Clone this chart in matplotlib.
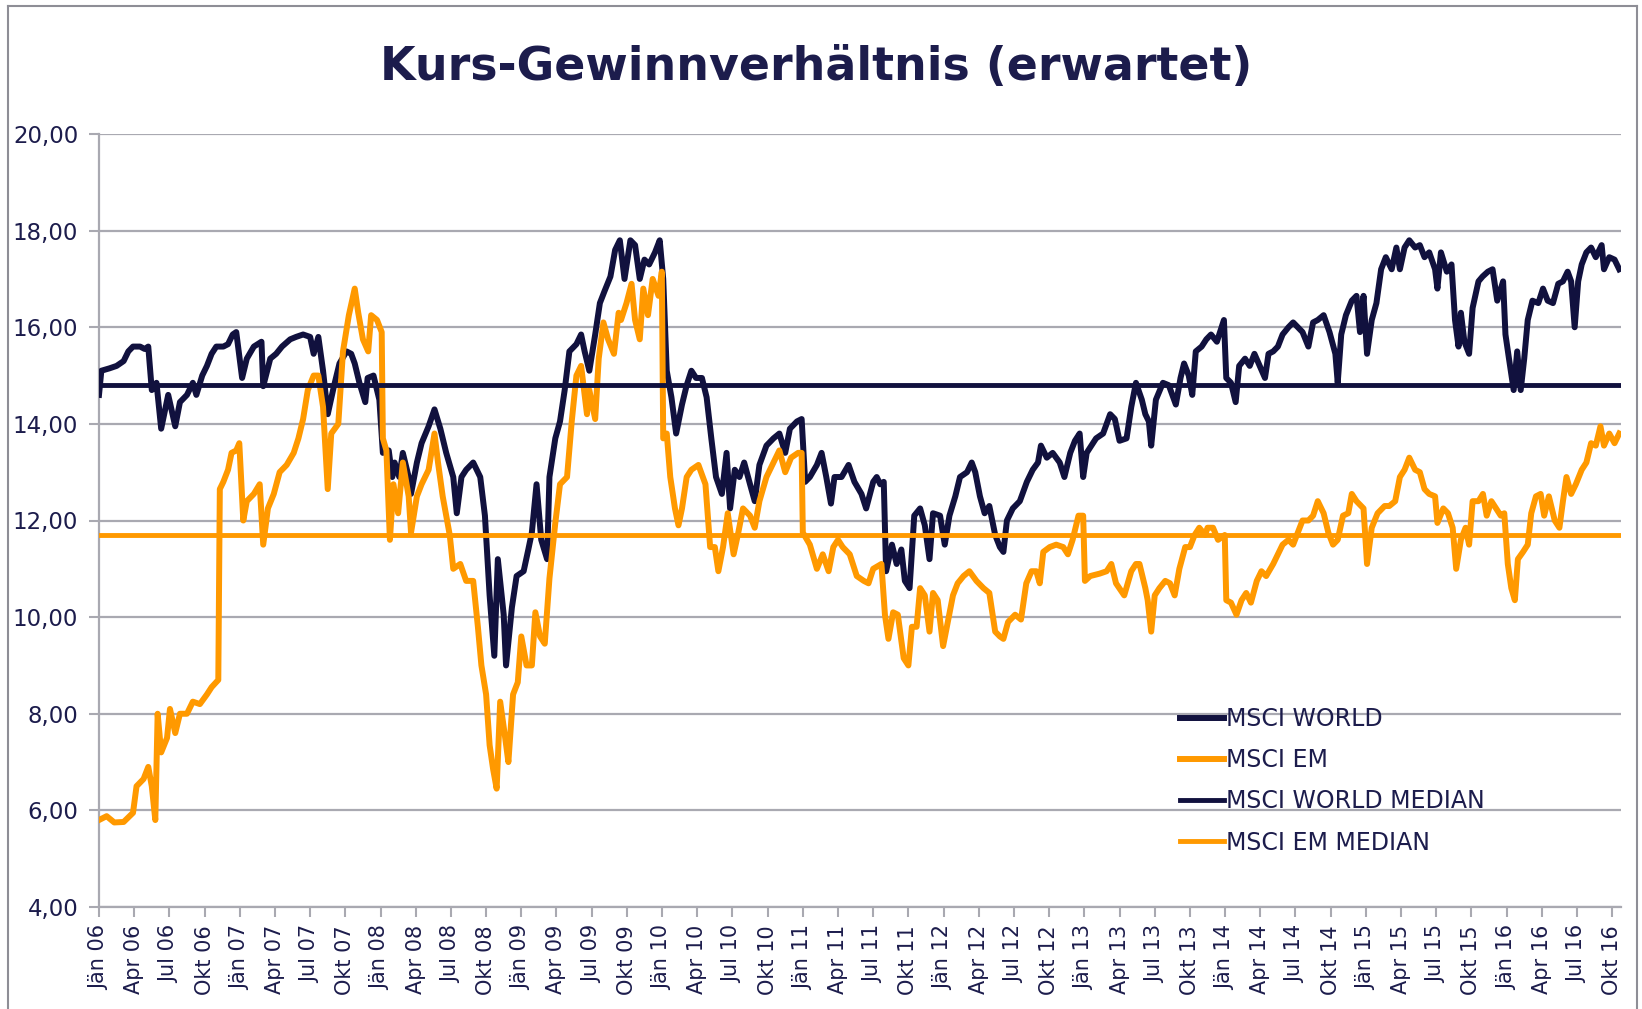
import numpy as np
import matplotlib
matplotlib.use("Agg")
import matplotlib.pyplot as plt
from matplotlib.lines import Line2D

# forward P/E, x = months since Jan 2006
world_pts = [
    (0.0, 14.6), (0.2, 15.1), (0.9, 15.15), (1.5, 15.2), (2.1, 15.3), (2.5, 15.5), (2.9, 15.6),
    (3.5, 15.6), (3.9, 15.55), (4.2, 15.6), (4.5, 14.7), (4.9, 14.85), (5.3, 13.9), (5.9, 14.6),
    (6.5, 13.95), (6.9, 14.45), (7.5, 14.6), (8.0, 14.85), (8.3, 14.6), (8.8, 15.0), (9.2, 15.2),
    (9.6, 15.45), (10.0, 15.6), (10.6, 15.6), (11.0, 15.65), (11.4, 15.85), (11.7, 15.9),
    (12.2, 14.95), (12.6, 15.35), (13.2, 15.6), (13.85, 15.7), (14.0, 14.78), (14.6, 15.35),
    (15.1, 15.45), (15.6, 15.6), (16.3, 15.75), (16.8, 15.8), (17.4, 15.85), (18.0, 15.8),
    (18.3, 15.45), (18.7, 15.8), (19.1, 15.1), (19.5, 14.2), (20.0, 14.75), (20.5, 15.25),
    (21.1, 15.5), (21.5, 15.45), (21.8, 15.25), (22.2, 14.85), (22.7, 14.45), (22.9, 14.95),
    (23.4, 15.0), (23.9, 14.5), (24.2, 13.4), (24.7, 13.45), (25.0, 12.9), (25.2, 13.2),
    (25.6, 12.9), (25.9, 13.4), (26.4, 12.9), (26.6, 12.55), (27.1, 13.2), (27.5, 13.6),
    (28.1, 13.95), (28.6, 14.3), (29.1, 13.9), (29.6, 13.4), (30.2, 12.9), (30.5, 12.15),
    (30.9, 12.9), (31.3, 13.05), (31.9, 13.2), (32.5, 12.9), (32.9, 12.1), (33.3, 10.45),
    (33.7, 9.2), (34.0, 11.2), (34.5, 10.05), (34.7, 9.0), (35.2, 10.2), (35.6, 10.85),
    (36.2, 10.95), (36.6, 11.4), (36.9, 11.75), (37.3, 12.75), (37.7, 11.6), (38.2, 11.2),
    (38.4, 12.9), (38.9, 13.7), (39.3, 14.05), (39.7, 14.7), (40.1, 15.5), (40.7, 15.65),
    (41.1, 15.85), (41.4, 15.5), (41.8, 15.1), (42.3, 15.85), (42.7, 16.5), (43.1, 16.75),
    (43.6, 17.05), (44.0, 17.6), (44.4, 17.8), (44.8, 17.0), (45.3, 17.8), (45.7, 17.7),
    (46.1, 17.0), (46.5, 17.4), (46.9, 17.3), (47.4, 17.55), (47.8, 17.8), (48.1, 17.0),
    (48.4, 15.1), (48.8, 14.55), (49.2, 13.8), (49.7, 14.4), (50.1, 14.8), (50.5, 15.1),
    (50.9, 14.95), (51.4, 14.95), (51.8, 14.55), (52.2, 13.7), (52.6, 12.9), (53.1, 12.55),
    (53.5, 13.4), (53.8, 12.25), (54.2, 13.05), (54.6, 12.9), (55.0, 13.2), (55.5, 12.75),
    (55.9, 12.4), (56.3, 13.15), (56.9, 13.55), (57.5, 13.7), (58.0, 13.8), (58.5, 13.4),
    (58.9, 13.9), (59.5, 14.05), (59.9, 14.1), (60.2, 12.8), (60.6, 12.9), (61.2, 13.15),
    (61.6, 13.4), (62.0, 12.9), (62.4, 12.35), (62.7, 12.9), (63.3, 12.9), (63.9, 13.15),
    (64.4, 12.8), (65.0, 12.55), (65.4, 12.25), (66.0, 12.8), (66.3, 12.9), (66.6, 12.75),
    (66.9, 12.8), (67.1, 10.95), (67.6, 11.5), (68.0, 11.1), (68.4, 11.4), (68.7, 10.75),
    (69.1, 10.6), (69.5, 12.1), (70.0, 12.25), (70.4, 11.9), (70.8, 11.2), (71.1, 12.15),
    (71.7, 12.1), (72.1, 11.5), (72.5, 12.1), (73.0, 12.5), (73.4, 12.9), (74.0, 13.0),
    (74.4, 13.2), (74.7, 13.0), (75.1, 12.5), (75.5, 12.15), (75.9, 12.3), (76.4, 11.7),
    (76.8, 11.45), (77.1, 11.35), (77.4, 12.0), (77.9, 12.25), (78.5, 12.4), (79.1, 12.8),
    (79.6, 13.05), (80.05, 13.2), (80.3, 13.55), (80.8, 13.3), (81.3, 13.4), (81.9, 13.2),
    (82.3, 12.9), (82.8, 13.4), (83.2, 13.65), (83.6, 13.8), (83.9, 12.9), (84.2, 13.4),
    (84.6, 13.55), (85.0, 13.7), (85.6, 13.8), (86.2, 14.2), (86.6, 14.1), (87.0, 13.65),
    (87.6, 13.7), (88.0, 14.35), (88.4, 14.85), (88.9, 14.5), (89.2, 14.2), (89.5, 14.05),
    (89.7, 13.55), (90.1, 14.5), (90.7, 14.85), (91.2, 14.8), (91.8, 14.4), (92.2, 14.95),
    (92.5, 15.25), (92.9, 15.0), (93.2, 14.6), (93.5, 15.5), (94.0, 15.6), (94.4, 15.75),
    (94.8, 15.85), (95.3, 15.7), (95.5, 15.85), (95.9, 16.15), (96.1, 14.95), (96.5, 14.85),
    (96.9, 14.45), (97.2, 15.2), (97.7, 15.35), (98.1, 15.2), (98.5, 15.45), (98.95, 15.2),
    (99.4, 14.95), (99.7, 15.45), (100.1, 15.5), (100.5, 15.6), (100.9, 15.85), (101.4, 16.0),
    (101.8, 16.1), (102.2, 16.0), (102.6, 15.9), (103.1, 15.6), (103.5, 16.1), (103.9, 16.15),
    (104.4, 16.25), (104.9, 15.9), (105.4, 15.45), (105.6, 14.85), (105.9, 15.85),
    (106.3, 16.25), (106.8, 16.55), (107.2, 16.65), (107.5, 15.9), (107.8, 16.65),
    (108.1, 15.45), (108.5, 16.15), (108.9, 16.5), (109.3, 17.2), (109.7, 17.45),
    (110.2, 17.2), (110.6, 17.65), (110.9, 17.2), (111.3, 17.65), (111.7, 17.8),
    (112.2, 17.65), (112.6, 17.7), (113.0, 17.45), (113.4, 17.55), (113.9, 17.2),
    (114.1, 16.8), (114.4, 17.55), (114.9, 17.15), (115.3, 17.3), (115.6, 16.15),
    (115.9, 15.6), (116.1, 16.3), (116.4, 15.7), (116.8, 15.45), (117.1, 16.4),
    (117.6, 16.95), (117.95, 17.05), (118.4, 17.15), (118.8, 17.2), (119.2, 16.55),
    (119.7, 16.95), (119.9, 15.85), (120.2, 15.35), (120.6, 14.7), (120.9, 15.5),
    (121.2, 14.7), (121.5, 15.35), (121.8, 16.15), (122.2, 16.55), (122.7, 16.5),
    (123.1, 16.8), (123.5, 16.55), (123.95, 16.5), (124.4, 16.9), (124.8, 16.95),
    (125.2, 17.15), (125.5, 16.95), (125.8, 16.0), (126.1, 16.95), (126.4, 17.3),
    (126.8, 17.55), (127.2, 17.65), (127.6, 17.45), (128.1, 17.7), (128.3, 17.2),
    (128.75, 17.45), (129.2, 17.4), (129.6, 17.2),
]

em_pts = [
    (0.0, 5.8), (0.65, 5.88), (1.3, 5.75), (2.1, 5.76), (2.9, 5.95), (3.2, 6.5), (3.8, 6.65),
    (4.2, 6.9), (4.5, 6.5), (4.8, 5.8), (5.0, 8.0), (5.3, 7.2), (5.8, 7.5), (6.05, 8.1),
    (6.5, 7.6), (6.9, 8.0), (7.5, 8.0), (8.0, 8.25), (8.6, 8.2), (9.2, 8.4), (9.6, 8.55),
    (10.17, 8.7), (10.3, 12.65), (10.6, 12.8), (11.0, 13.05), (11.3, 13.4), (11.7, 13.45),
    (11.96, 13.6), (12.3, 12.0), (12.6, 12.4), (13.2, 12.55), (13.7, 12.75), (14.0, 11.5),
    (14.4, 12.25), (14.9, 12.55), (15.4, 13.0), (16.0, 13.15), (16.6, 13.4), (17.0, 13.7),
    (17.4, 14.1), (17.8, 14.7), (18.3, 15.0), (18.7, 15.0), (19.1, 14.35), (19.5, 12.65),
    (19.8, 13.8), (20.4, 14.0), (20.8, 15.5), (21.3, 16.25), (21.8, 16.8), (22.1, 16.3),
    (22.5, 15.75), (22.95, 15.5), (23.2, 16.25), (23.7, 16.15), (24.1, 15.9), (24.2, 13.7),
    (24.5, 13.45), (24.8, 11.6), (25.1, 12.75), (25.5, 12.15), (25.9, 13.2), (26.4, 12.5),
    (26.6, 11.75), (27.1, 12.5), (27.5, 12.75), (28.1, 13.05), (28.6, 13.8), (28.9, 13.2),
    (29.3, 12.5), (29.9, 11.7), (30.2, 11.0), (30.8, 11.1), (31.3, 10.75), (31.9, 10.75),
    (32.3, 9.8), (32.6, 9.0), (33.0, 8.4), (33.3, 7.35), (33.6, 6.85), (33.9, 6.45),
    (34.2, 8.25), (34.6, 7.55), (34.9, 7.0), (35.3, 8.4), (35.7, 8.65), (36.0, 9.6),
    (36.45, 9.0), (36.9, 9.0), (37.2, 10.1), (37.6, 9.6), (38.0, 9.45), (38.4, 10.8),
    (38.9, 11.95), (39.3, 12.75), (39.9, 12.9), (40.3, 14.05), (40.7, 15.0), (41.1, 15.2),
    (41.6, 14.2), (41.8, 14.7), (42.3, 14.1), (42.6, 15.35), (43.0, 16.1), (43.4, 15.75),
    (43.9, 15.45), (44.3, 16.3), (44.5, 16.15), (44.97, 16.5), (45.4, 16.9), (45.7, 16.15),
    (46.1, 15.75), (46.4, 16.8), (46.8, 16.25), (47.2, 17.0), (47.7, 16.65), (47.98, 17.15),
    (48.1, 13.7), (48.4, 13.8), (48.7, 12.9), (49.1, 12.25), (49.4, 11.9), (49.7, 12.25),
    (50.1, 12.9), (50.5, 13.05), (51.1, 13.15), (51.7, 12.75), (52.1, 11.45), (52.5, 11.45),
    (52.8, 10.95), (53.2, 11.45), (53.6, 12.15), (54.1, 11.3), (54.5, 11.75), (54.9, 12.25),
    (55.5, 12.1), (55.9, 11.85), (56.3, 12.4), (56.9, 12.9), (57.5, 13.2), (58.0, 13.45),
    (58.5, 13.0), (59.0, 13.3), (59.6, 13.4), (59.9, 13.4), (60.0, 11.75), (60.6, 11.5),
    (61.2, 11.0), (61.7, 11.3), (62.2, 10.95), (62.6, 11.45), (63.0, 11.6), (63.4, 11.45),
    (64.0, 11.3), (64.6, 10.85), (65.2, 10.75), (65.6, 10.7), (66.0, 11.0), (66.7, 11.1),
    (67.0, 10.05), (67.3, 9.55), (67.7, 10.1), (68.1, 10.05), (68.6, 9.15), (69.0, 9.0),
    (69.3, 9.8), (69.7, 9.8), (70.0, 10.6), (70.4, 10.45), (70.8, 9.7), (71.1, 10.5),
    (71.5, 10.35), (71.96, 9.4), (72.4, 9.95), (72.8, 10.45), (73.2, 10.7), (73.7, 10.85),
    (74.2, 10.95), (74.8, 10.75), (75.4, 10.6), (75.9, 10.5), (76.4, 9.7), (76.8, 9.6),
    (77.1, 9.55), (77.5, 9.9), (78.1, 10.05), (78.6, 9.95), (79.05, 10.7), (79.5, 10.95),
    (79.9, 10.95), (80.2, 10.7), (80.5, 11.35), (81.05, 11.45), (81.6, 11.5), (82.2, 11.45),
    (82.6, 11.3), (83.0, 11.6), (83.5, 12.1), (83.9, 12.1), (84.05, 10.75), (84.5, 10.85),
    (85.3, 10.9), (85.9, 10.95), (86.3, 11.1), (86.7, 10.7), (87.4, 10.45), (88.0, 10.95),
    (88.4, 11.1), (88.7, 11.1), (89.2, 10.6), (89.4, 10.35), (89.7, 9.7), (90.0, 10.45),
    (90.4, 10.6), (90.9, 10.75), (91.3, 10.7), (91.7, 10.45), (92.1, 11.0), (92.6, 11.45),
    (93.0, 11.45), (93.4, 11.7), (93.8, 11.85), (94.3, 11.7), (94.5, 11.85), (94.97, 11.85),
    (95.4, 11.6), (95.97, 11.7), (96.1, 10.35), (96.5, 10.3), (96.97, 10.05), (97.4, 10.35),
    (97.8, 10.5), (98.2, 10.3), (98.7, 10.75), (99.1, 10.95), (99.5, 10.85), (100.1, 11.1),
    (100.5, 11.3), (100.9, 11.5), (101.4, 11.6), (101.8, 11.5), (102.2, 11.75), (102.6, 12.0),
    (103.1, 12.0), (103.5, 12.1), (103.9, 12.4), (104.4, 12.15), (104.8, 11.75), (105.2, 11.5),
    (105.6, 11.6), (106.05, 12.1), (106.5, 12.15), (106.8, 12.55), (107.2, 12.4),
    (107.8, 12.25), (108.1, 11.1), (108.5, 11.85), (109.0, 12.15), (109.6, 12.3),
    (110.0, 12.3), (110.5, 12.4), (110.9, 12.9), (111.3, 13.05), (111.7, 13.3), (112.2, 13.05),
    (112.6, 13.0), (113.0, 12.65), (113.4, 12.55), (113.9, 12.5), (114.1, 11.95),
    (114.6, 12.25), (115.0, 12.15), (115.4, 11.85), (115.7, 11.0), (116.1, 11.6),
    (116.5, 11.85), (116.8, 11.5), (117.1, 12.4), (117.6, 12.4), (117.98, 12.55),
    (118.3, 12.1), (118.7, 12.4), (119.1, 12.25), (119.5, 12.1), (119.8, 12.15),
    (120.1, 11.1), (120.4, 10.6), (120.7, 10.35), (120.96, 11.2), (121.4, 11.35),
    (121.8, 11.5), (122.1, 12.15), (122.5, 12.5), (122.9, 12.55), (123.2, 12.1),
    (123.6, 12.5), (124.1, 12.0), (124.5, 11.85), (124.8, 12.4), (125.1, 12.9),
    (125.5, 12.55), (125.9, 12.75), (126.4, 13.05), (126.8, 13.2), (127.2, 13.6),
    (127.6, 13.55), (128.0, 13.95), (128.3, 13.55), (128.75, 13.8), (129.2, 13.6),
    (129.6, 13.8),
]

world_median = 14.8
em_median = 11.7

series_labels = ["MSCI WORLD", "MSCI EM", "MSCI WORLD MEDIAN", "MSCI EM MEDIAN"]
quarter_names = ["Jän", "Apr", "Jul", "Okt"]
y_ticks = [4, 6, 8, 10, 12, 14, 16, 18, 20]

navy = "#11113e"
orange = "#ff9900"
text_col = "#1c1c4c"
grid_col = "#a9a9b1"

world_t, world_pe = np.array(world_pts).T
em_t, em_pe = np.array(em_pts).T

W, H = 1642, 1009
fig = plt.figure(figsize=(W / 100, H / 100), dpi=100)
ax = fig.add_axes([99 / W, 1 - 907 / H, (1621 - 99) / W, (907 - 134) / H])

l1, = ax.plot(world_t, world_pe, color=navy, lw=4.3, solid_joinstyle="round", zorder=3)
l2, = ax.plot(em_t, em_pe, color=orange, lw=4.3, solid_joinstyle="round", zorder=4)
l3 = ax.axhline(world_median, color=navy, lw=3.5, zorder=5)
l4 = ax.axhline(em_median, color=orange, lw=3.5, zorder=6)

ax.set_xlim(0, 129.75)
ax.set_ylim(4, 20)

months = np.arange(0, 130, 3)
ax.set_xticks(months)
ax.set_xticklabels([f"{quarter_names[(m // 3) % 4]} {(6 + m // 12):02d}" for m in months],
                   rotation=90, fontsize=15, color=text_col)
ax.set_yticks(y_ticks)
ax.set_yticklabels([f"{v:.2f}".replace(".", ",") for v in y_ticks], fontsize=16.5, color=text_col)
ax.tick_params(axis="both", direction="out", length=7, width=1.5, color=grid_col)
ax.tick_params(axis="y", pad=8)
ax.tick_params(axis="x", pad=6)

ax.yaxis.grid(True, color=grid_col, lw=1.6)
ax.set_axisbelow(True)
for side in ["top", "right"]:
    ax.spines[side].set_visible(False)
for side in ["left", "bottom"]:
    ax.spines[side].set_color(grid_col)
    ax.spines[side].set_linewidth(1.6)

ax.legend([l1, l2, l3, l4], series_labels, loc="upper left", bbox_to_anchor=(0.710, 0.259),
          frameon=False, fontsize=17, handlelength=1.9, handletextpad=0.08, labelspacing=0.73,
          borderpad=0, borderaxespad=0, labelcolor=text_col)

fig.text(0.497, 0.933, "Kurs-Gewinnverhältnis (erwartet)", fontsize=33, fontweight="bold",
         color=text_col, ha="center", va="center")

# outer chart frame
frame_kw = dict(transform=fig.transFigure, color="#8e8e96", lw=1.5)
fig.add_artist(Line2D([8 / W, 8 / W], [0, 1 - 6 / H], **frame_kw))
fig.add_artist(Line2D([8 / W, 1637 / W], [1 - 6 / H, 1 - 6 / H], **frame_kw))
fig.add_artist(Line2D([1637 / W, 1637 / W], [0, 1 - 6 / H], **frame_kw))

fig.savefig("out.png", dpi=100)
